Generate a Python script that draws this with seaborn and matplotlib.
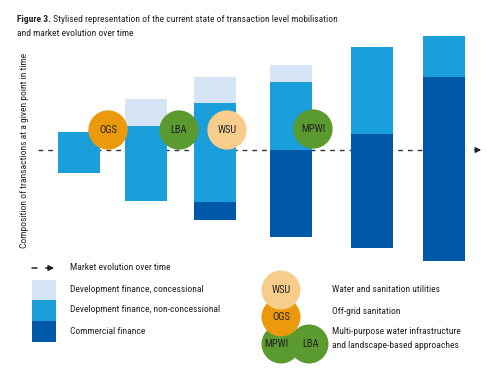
import matplotlib
matplotlib.use('Agg')
import pandas as pd
import matplotlib.pyplot as plt
import seaborn as sns
from matplotlib.patches import Rectangle, Circle

# --- dados (posicao no tempo e composicao de cada barra, relativo a linha tracejada) ---
periods = [41, 108, 177, 253, 334, 406]
bar_base = [-23, -51, -70, -87, -98, -111]
commercial = [0, 0, 18, 87, 114, 184]
non_concessional = [41, 75, 99, 68, 87, 41]
concessional = [0, 27, 26, 17, 0, 0]

circle_labels = ['OGS', 'LBA', 'WSU', 'MPWI']
circle_x = [70, 141, 189, 275]
circle_y = [20, 20, 20, 21]

C_CONC = '#d6e5f6'
C_NONC = '#1a9fdb'
C_COMM = '#0059a8'
circle_colors = {'OGS': '#eb9a0e', 'LBA': '#5a9a2e', 'WSU': '#f8cd8c', 'MPWI': '#5a9a2e'}
TXT = '#222222'
FS = 6.8
FS_CIRC = 7.6

sns.set_style('white')
plt.rcParams['font.family'] = ['Roboto Condensed', 'Asap Condensed', 'DejaVu Sans']

fig = plt.figure(figsize=(5, 3.85), dpi=100)
ax = fig.add_axes([38 / 500, 1 - 262 / 385, 444 / 500, 232 / 385])

# barras empilhadas
bottoms = list(bar_base)
for heights, col in [(commercial, C_COMM), (non_concessional, C_NONC), (concessional, C_CONC)]:
    sns.barplot(x=periods, y=heights, bottom=bottoms, native_scale=True, width=42 / 67,
                color=col, saturation=1, errorbar=None, linewidth=0, ax=ax, zorder=2)
    bottoms = [b + h for b, h in zip(bottoms, heights)]

# linha de evolucao do mercado
ax.plot([0, 428], [0, 0], ls=(0, (3.4, 3.6)), lw=1.0, color='#333333', zorder=1)
ax.annotate('', xy=(446, 0), xytext=(434, 0),
            arrowprops=dict(arrowstyle='-|>', color='#222222', lw=1.0, mutation_scale=8),
            annotation_clip=False)

# circulos
circ = pd.DataFrame({'x': circle_x, 'y': circle_y, 'lab': circle_labels})
sns.scatterplot(data=circ, x='x', y='y', hue='lab', palette=circle_colors, s=800,
                edgecolor='none', legend=False, ax=ax, zorder=4)
for lab, x, y in zip(circle_labels, circle_x, circle_y):
    ax.text(x, y, lab, ha='center', va='center', fontsize=FS_CIRC, color=TXT, zorder=5)

ax.set_xlim(0, 444)
ax.set_ylim(-112, 120)
ax.axis('off')

# --- camada de texto e legenda em pixels ---
lg = fig.add_axes([0, 0, 1, 1])
lg.set_xlim(0, 500)
lg.set_ylim(385, 0)
lg.axis('off')
lg.patch.set_visible(False)

t = lg.text(17, 19, 'Figure 3.', fontsize=FS, fontweight='bold', va='center', color=TXT)
lg.annotate(' Stylised representation of the current state of transaction level mobilisation',
            xy=(1, 0), xycoords=t, va='bottom', fontsize=FS, color=TXT)
lg.text(17, 34, 'and market evolution over time', fontsize=FS, va='center', color=TXT)

lg.text(25, 150, 'Composition of transactions at a given point in time', rotation=90,
        ha='center', va='center', fontsize=FS, color=TXT)

# legenda esquerda
lg.plot([32, 37], [268, 268], color='#222222', lw=1.1)
lg.annotate('', xy=(57, 268), xytext=(43, 268),
            arrowprops=dict(arrowstyle='-|>', color='#222222', lw=1.1, mutation_scale=8))
lg.text(70, 268, 'Market evolution over time', fontsize=FS, va='center', color=TXT)
for y0, col, lab in [(280, C_CONC, 'Development finance, concessional'),
                     (300, C_NONC, 'Development finance, non-concessional'),
                     (321, C_COMM, 'Commercial finance')]:
    lg.add_patch(Rectangle((32, y0), 24, 21, color=col, lw=0))
    lg.text(70, y0 + 10, lab, fontsize=FS, va='center', color=TXT)

# legenda direita (circulos)
for (cx, cy), lab in [((309, 344), 'LBA'), ((281, 344), 'MPWI'), ((281, 317), 'OGS'), ((281, 290), 'WSU')]:
    lg.add_patch(Circle((cx, cy), 19.5, color=circle_colors[lab], lw=0))
for (cx, cy), lab in [((311, 344), 'LBA'), ((276, 344), 'MPWI'), ((281, 317), 'OGS'), ((281, 290), 'WSU')]:
    lg.text(cx, cy, lab, ha='center', va='center', fontsize=FS_CIRC, color=TXT)
lg.text(332, 290, 'Water and sanitation utilities', fontsize=FS, va='center', color=TXT)
lg.text(332, 311, 'Off-grid sanitation', fontsize=FS, va='center', color=TXT)
lg.text(332, 332, 'Multi-purpose water infrastructure', fontsize=FS, va='center', color=TXT)
lg.text(332, 345, 'and landscape-based approaches', fontsize=FS, va='center', color=TXT)

fig.savefig('out.png', dpi=100)
